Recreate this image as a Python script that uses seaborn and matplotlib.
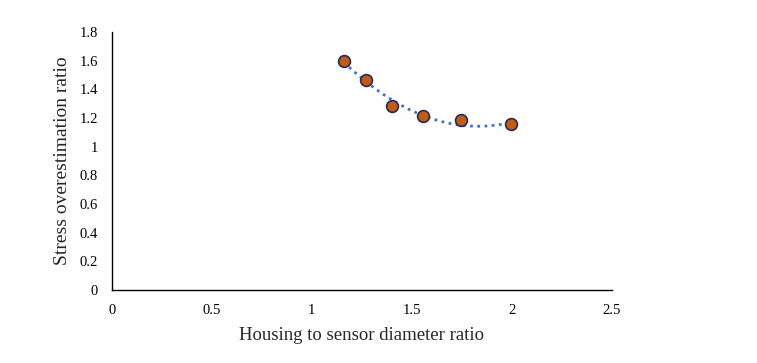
import numpy as np
import pandas as pd
import matplotlib.pyplot as plt
import seaborn as sns

# data
diameter_ratio = [1.16, 1.27, 1.40, 1.555, 1.745, 1.995]
stress_ratio = [1.60, 1.463, 1.287, 1.217, 1.185, 1.155]

x_ticks = [0, 0.5, 1, 1.5, 2, 2.5]
y_ticks = [0, 0.2, 0.4, 0.6, 0.8, 1, 1.2, 1.4, 1.6, 1.8]

df = pd.DataFrame({"x": diameter_ratio, "y": stress_ratio})

sns.set_style("white")
plt.rcParams["font.family"] = ["Liberation Serif", "DejaVu Serif"]

fig = plt.figure(figsize=(7.57, 3.63), dpi=100)
ax = fig.add_axes([0.148, 0.201, 0.66, 0.711])

# order-2 polynomial trendline, dotted like Excel
sns.regplot(data=df, x="x", y="y", order=2, ci=None, scatter=False, ax=ax,
            line_kws={"color": "#4472C4", "lw": 2.0, "ls": (0, (1, 1.6))})
sns.scatterplot(data=df, x="x", y="y", ax=ax, s=72, color="#C55A11",
                edgecolor="#1F2D5C", linewidth=1.2, zorder=3)

ax.set_xlim(0, 2.5)
ax.set_ylim(0, 1.8)
ax.set_xticks(x_ticks)
ax.set_xticklabels([f"{t:g}" for t in x_ticks])
ax.set_yticks(y_ticks)
ax.set_yticklabels([f"{t:g}" for t in y_ticks])
ax.tick_params(axis="both", length=0, labelsize=10.5, colors="black")
ax.tick_params(axis="x", pad=10)
ax.tick_params(axis="y", pad=10)

ax.set_xlabel("Housing to sensor diameter ratio", fontsize=13.5, labelpad=7)
ax.set_ylabel("Stress overestimation ratio", fontsize=14, labelpad=6)

for side in ["top", "right"]:
    ax.spines[side].set_visible(False)
for side in ["left", "bottom"]:
    ax.spines[side].set_color("black")
    ax.spines[side].set_linewidth(1.0)

fig.savefig("out.png", dpi=100)
